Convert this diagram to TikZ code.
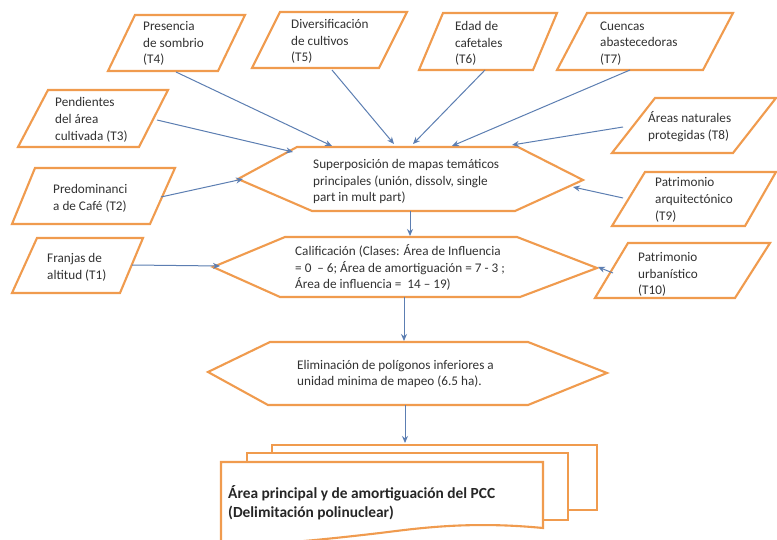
\documentclass[tikz,border=0pt]{standalone}
\usepackage{fontspec}
\setmainfont{Carlito}
\usetikzlibrary{arrows.meta}
\definecolor{orangeline}{RGB}{240,155,78}
\definecolor{arrowblue}{RGB}{92,126,178}
\definecolor{txt}{RGB}{50,50,50}
\tikzset{
  shapeline/.style={draw=orangeline, line width=2.1pt, fill=white, line join=miter},
  conn/.style={draw=arrowblue, line width=1pt, -{Stealth[length=7pt,width=6pt]}},
  lbl/.style={anchor=west, align=left, inner sep=0pt, text=txt, font=\fontsize{13.2}{16.8}\selectfont},
  lblbig/.style={anchor=west, align=left, inner sep=0pt, text=black!85, font=\fontsize{15.4}{19}\selectfont\bfseries}
}
\begin{document}
\begin{tikzpicture}[x=1pt,y=-1pt]
\useasboundingbox (0,0) rectangle (777,540);
\fill[white] (0,0) rectangle (777,540);

% parallelograms (inputs)
\draw[shapeline] (135,15) -- (245,15) -- (218,71) -- (108,71) -- cycle;
\draw[shapeline] (280,12) -- (407,12) -- (379,68) -- (252,68) -- cycle;
\draw[shapeline] (443,13) -- (557,13) -- (533,70) -- (419,70) -- cycle;
\draw[shapeline] (587,13) -- (733,13) -- (703,70) -- (557,70) -- cycle;
\draw[shapeline] (655,98) -- (776,98) -- (733,153) -- (612,153) -- cycle;
\draw[shapeline] (48,90) -- (168,90) -- (139,147) -- (18,147) -- cycle;
\draw[shapeline] (35,168) -- (175,168) -- (150,224) -- (12,224) -- cycle;
\draw[shapeline] (37,238) -- (143,238) -- (120,293) -- (12,293) -- cycle;
\draw[shapeline] (645,172) -- (776,172) -- (745,226) -- (612,226) -- cycle;
\draw[shapeline] (628,243) -- (770,243) -- (735,298) -- (595,298) -- cycle;

% hexagons (processes)
\draw[shapeline] (238,179) -- (297,147) -- (518,147) -- (583,180) -- (515,211) -- (312,211) -- cycle;
\draw[shapeline] (213,267) -- (285,237) -- (517,237) -- (597,268) -- (520,297) -- (280,297) -- cycle;
\draw[shapeline] (208,372) -- (270,342) -- (528,342) -- (607,373) -- (528,405) -- (268,405) -- cycle;

% multi-document
\draw[shapeline] (272,445) rectangle (597,510);
\draw[shapeline] (247,453) rectangle (568,520);
\draw[shapeline] (221,545) -- (221,462) -- (543,462) -- (543,528)
  .. controls (470,521) and (420,528) .. (380,533)
  .. controls (320,540) and (260,546) .. (221,545) -- cycle;

% labels
\node[lbl] (t4) at (143,43.5) {Presencia\\de sombrio\\(T4)};
\node[lbl] (t5) at (291,41.5) {Diversificación\\de cultivos\\(T5)};
\node[lbl] (t6) at (455,43.5) {Edad de\\cafetales\\(T6)};
\node[lbl] (t7) at (600,43.5) {Cuencas\\abastecedoras\\(T7)};
\node[lbl] (t8) at (648,127) {Áreas naturales\\protegidas (T8)};
\node[lbl] (t3) at (55,120) {Pendientes\\del área\\cultivada (T3)};
\node[lbl] (t2) at (53,198) {Predominanci\\a de Café (T2)};
\node[lbl] (t1) at (47,267.5) {Franjas de\\altitud (T1)};
\node[lbl] (t9) at (655,200) {Patrimonio\\arquitectónico\\(T9)};
\node[lbl] (t10) at (638,274.5) {Patrimonio\\urbanístico\\(T10)};
\node[lbl] (h1) at (313,181.5) {Superposición de mapas temáticos\\principales (unión, dissolv, single\\part in mult part)};
\node[lbl] (h2) at (295,267.5) {Calificación (Clases: Área de Influencia\\= 0 \ – 6; Área de amortiguación = 7 - 3 ;\\Área de influencia = \ 14 – 19)};
\node[lbl] (h3) at (297,374) {Eliminación de polígonos inferiores a\\unidad minima de mapeo (6.5 ha).};
\node[lblbig] (fin) at (228,502.5) {Área principal y de amortiguación del PCC\\(Delimitación polinuclear)};

% connector end points
\coordinate (t4o) at (176,72);   \coordinate (h1i4) at (332,146);
\coordinate (t5o) at (332,70);   \coordinate (h1i5) at (394,144);
\coordinate (t6o) at (485,70);   \coordinate (h1i6) at (413,144);
\coordinate (t7o) at (630,70);   \coordinate (h1i7) at (452,146);
\coordinate (t8o) at (623,127);  \coordinate (h1i8) at (512,145);
\coordinate (t3o) at (157,120);  \coordinate (h1i3) at (293,152);
\coordinate (t2o) at (161,197);  \coordinate (h1i2) at (243,179);
\coordinate (t9o) at (623,198);  \coordinate (h1i9) at (573,187);
\coordinate (t1o) at (132,265);  \coordinate (h2i1) at (220,266);
\coordinate (t10o) at (613,273); \coordinate (h2i10) at (598,267);
\coordinate (h1o) at (410,211);  \coordinate (h2i) at (410,236);
\coordinate (h2o) at (404,297);  \coordinate (h3i) at (404,341);
\coordinate (h3o) at (405,405);  \coordinate (fini) at (405,443);

% connectors
\draw[conn] (t4o) -- (h1i4);
\draw[conn] (t5o) -- (h1i5);
\draw[conn] (t6o) -- (h1i6);
\draw[conn] (t7o) -- (h1i7);
\draw[conn] (t8o) -- (h1i8);
\draw[conn] (t3o) -- (h1i3);
\draw[conn] (t2o) -- (h1i2);
\draw[conn] (t9o) -- (h1i9);
\draw[conn] (t1o) -- (h2i1);
\draw[conn] (t10o) -- (h2i10);
\draw[conn] (h1o) -- (h2i);
\draw[conn] (h2o) -- (h3i);
\draw[conn] (h3o) -- (fini);
\end{tikzpicture}
\end{document}
